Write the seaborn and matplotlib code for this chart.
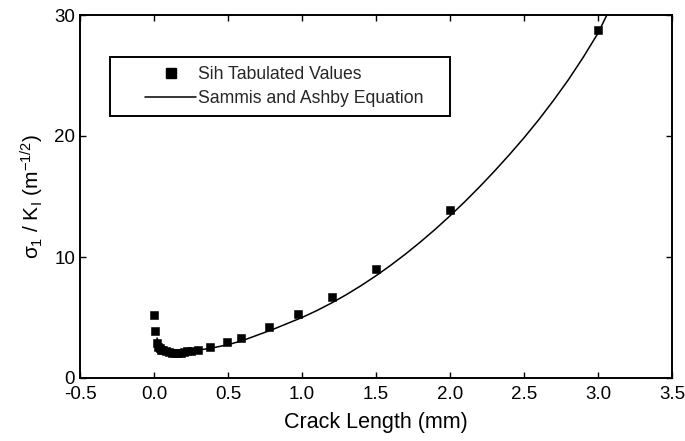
import matplotlib
matplotlib.use("Agg")
import matplotlib.pyplot as plt
from matplotlib.lines import Line2D
from matplotlib.legend_handler import HandlerLine2D
import seaborn as sns
import pandas as pd

# Sih tabulated values
sih_x = [0.00, 0.01, 0.02, 0.03, 0.04, 0.05, 0.06, 0.08, 0.10, 0.12, 0.14, 0.16, 0.18,
         0.20, 0.22, 0.25, 0.30, 0.38, 0.49, 0.59, 0.78, 0.97, 1.20, 1.50, 2.00, 3.00]
sih_y = [5.2, 3.85, 2.9, 2.6, 2.45, 2.35, 2.3, 2.2, 2.15, 2.1, 2.1, 2.1, 2.1,
         2.15, 2.2, 2.25, 2.35, 2.6, 3.0, 3.3, 4.2, 5.3, 6.7, 9.0, 13.9, 28.8]

# Sammis and Ashby equation curve
eq_x = [0.02, 0.03, 0.05, 0.07, 0.10, 0.15, 0.20, 0.30, 0.40, 0.50, 0.60, 0.70,
        0.80, 0.90, 1.00, 1.10, 1.20, 1.30, 1.40, 1.50, 1.60, 1.70, 1.80, 1.90,
        2.00, 2.10, 2.20, 2.30, 2.40, 2.50, 2.60, 2.70, 2.80, 2.90, 3.00, 3.06]
eq_y = [3.3, 2.9, 2.5, 2.3, 2.15, 2.1, 2.15, 2.3, 2.5, 2.75, 3.1, 3.55,
        4.0, 4.5, 5.0, 5.57, 6.2, 6.89, 7.64, 8.45, 9.32, 10.25, 11.24, 12.29,
        13.4, 14.57, 15.8, 17.09, 18.44, 19.85, 21.35, 22.95, 24.65, 26.5, 28.5, 30.0]

sih = pd.DataFrame({"x": sih_x, "y": sih_y})
eq = pd.DataFrame({"x": eq_x, "y": eq_y})

sns.set_theme(style="ticks")
plt.rcParams['font.family'] = ['Liberation Sans', 'DejaVu Sans']
plt.rcParams['mathtext.fontset'] = 'custom'
plt.rcParams['mathtext.rm'] = 'Liberation Sans'
plt.rcParams['mathtext.it'] = 'Liberation Sans'

fig = plt.figure(figsize=(6.85, 4.41), dpi=100)
ax = fig.add_axes([80 / 685, 63 / 441, 592 / 685, 363 / 441])

sns.scatterplot(data=sih, x="x", y="y", marker="s", s=40, color="black",
                edgecolor="black", linewidth=0.4, ax=ax, zorder=3, legend=False)
sns.lineplot(data=eq, x="x", y="y", color="black", linewidth=1.1, ax=ax,
             sort=True, legend=False)

ax.set_xlim(-0.5, 3.5)
ax.set_ylim(0, 30)
ax.set_xticks([-0.5, 0, 0.5, 1.0, 1.5, 2.0, 2.5, 3.0, 3.5])
ax.set_xticklabels(["-0.5", "0.0", "0.5", "1.0", "1.5", "2.0", "2.5", "3.0", "3.5"])
ax.set_yticks([0, 10, 20, 30])
ax.tick_params(direction="in", top=True, right=True, labelsize=13.5, length=4,
               width=1, colors="black")
ax.tick_params(axis="x", pad=6)
for sp in ax.spines.values():
    sp.set_linewidth(1.4)
    sp.set_color("black")

ax.set_xlabel("Crack Length (mm)", fontsize=15.5, color="black", labelpad=6)
ax.set_ylabel(r"$\sigma_1$ / K$_\mathrm{I}$ (m$^{-1/2}$)", fontsize=15, color="black",
              labelpad=6)

handles = [Line2D([], [], marker="s", markersize=6.5, color="black", linestyle="none"),
           Line2D([], [], color="black", linewidth=1.1)]
labels = ["Sih Tabulated Values", "Sammis and Ashby Equation"]
leg = ax.legend(handles, labels, loc="upper left",
                bbox_to_anchor=(0.0507, 0.716, 0.574, 0.168), mode="expand",
                fancybox=False, edgecolor="black", fontsize=12.7, framealpha=1,
                borderpad=0.5, labelspacing=0.4, handlelength=4.4,
                handletextpad=0.1, borderaxespad=0,
                handler_map={Line2D: HandlerLine2D(xpad=1.5)})
leg.get_frame().set_linewidth(1.4)

fig.savefig("out.png", dpi=100)
